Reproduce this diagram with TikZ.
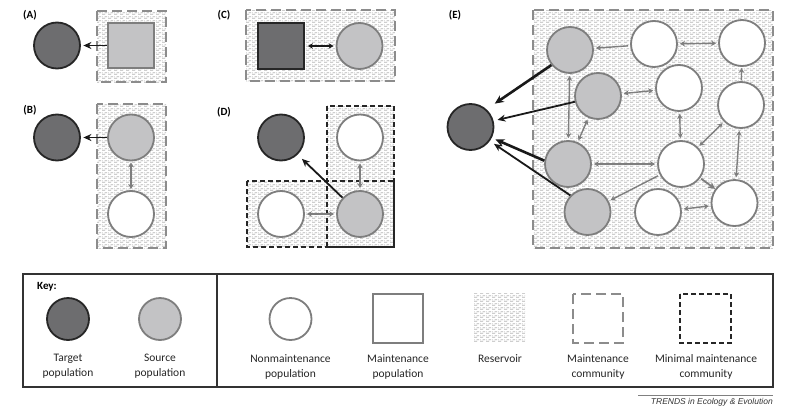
\documentclass[tikz,border=0pt]{standalone}
\usepackage{fontspec}
\setmainfont{Carlito}
\newfontfamily\arialfont{Liberation Sans}
\usetikzlibrary{arrows.meta,patterns,calc}

\pgfdeclarepatternformonly{reservoirdash}{\pgfqpoint{0pt}{0pt}}{\pgfqpoint{6pt}{3.5pt}}{\pgfqpoint{6pt}{3.5pt}}{%
  \pgfpathrectangle{\pgfqpoint{0pt}{0.4pt}}{\pgfqpoint{3.6pt}{0.9pt}}%
  \pgfpathrectangle{\pgfqpoint{3pt}{2.15pt}}{\pgfqpoint{3pt}{0.9pt}}%
  \pgfpathrectangle{\pgfqpoint{0pt}{2.15pt}}{\pgfqpoint{0.6pt}{0.9pt}}%
  \pgfusepath{fill}}

\definecolor{tgtfill}{HTML}{6D6D6F}
\definecolor{srcfill}{HTML}{C3C3C5}
\definecolor{edgegray}{HTML}{7E7E7E}
\definecolor{boxgray}{HTML}{8C8C8C}
\definecolor{patgray}{HTML}{B4B4B4}

\tikzset{
  pop/.style={circle, minimum size=46pt, inner sep=0pt, line width=1.8pt},
  target/.style={pop, draw=black!85, fill=tgtfill},
  source/.style={pop, draw=edgegray, fill=srcfill},
  nonmaint/.style={pop, draw=edgegray, fill=white},
  keypop/.style={minimum size=42pt},
  sqsrc/.style={rectangle, draw=edgegray, fill=srcfill, line width=1.8pt, minimum width=46pt, minimum height=45pt, inner sep=0pt},
  sqtgt/.style={rectangle, draw=black!85, fill=tgtfill, line width=1.8pt, minimum width=46pt, minimum height=46pt, inner sep=0pt},
  sqmaint/.style={rectangle, draw=edgegray, fill=white, line width=1.9pt, minimum width=50pt, minimum height=49pt, inner sep=0pt},
  reservoirbox/.style={preaction={fill=white}, preaction={pattern=reservoirdash, pattern color=patgray}},
  maintcomm/.style={draw=boxgray, line width=1.9pt, dash pattern=on 10pt off 5pt},
  minimalcomm/.style={draw=black!85, line width=1.9pt, dash pattern=on 5pt off 3pt},
  blackarr/.style={-{Stealth[length=8pt,width=7pt]}, line width=1.8pt, draw=black!90},
  thickarr/.style={blackarr, line width=2.6pt, -{Stealth[length=9pt,width=8pt]}},
  blackdbl/.style={{Stealth[length=5pt,width=5.5pt]}-{Stealth[length=5pt,width=5.5pt]}, line width=1.4pt, draw=black!90},
  grayarr/.style={-{Stealth[length=5pt,width=5.5pt]}, line width=1.4pt, draw=edgegray, shorten <=2pt, shorten >=2pt},
  bigarr/.style={-{Stealth[length=7pt,width=7pt]}, line width=1.8pt, draw=edgegray, shorten <=1pt, shorten >=0pt},
  graydbl/.style={{Stealth[length=5pt,width=5.5pt]}-{Stealth[length=5pt,width=5.5pt]}, line width=1.4pt, draw=edgegray, shorten <=2pt, shorten >=2pt},
  panellabel/.style={font=\bfseries\fontsize{11}{13}\selectfont, inner sep=0pt},
  keylabel/.style={font=\fontsize{11.5}{15}\selectfont, align=center, inner sep=0pt, text=black!85},
}

\begin{document}
\begin{tikzpicture}[x=1pt,y=-1pt]
\useasboundingbox (0,0) rectangle (797,415);

% ---------- (A) ----------
\node[panellabel] (la) at (30,15) {(A)};
\node[target] (at) at (57,45.5) {};
\draw[reservoirbox, maintcomm] (97,11) rectangle (166,82);
\node[sqsrc] (asq) at (131,45.5) {};
\draw[blackarr, shorten >=2.5pt] (asq) -- (at);

% ---------- (B) ----------
\node[panellabel] (lb) at (30,110) {(B)};
\node[target] (bt) at (57,137.5) {};
\draw[reservoirbox, maintcomm] (97,104) rectangle (166,248);
\node[source] (bs) at (131,137.5) {};
\node[nonmaint] (bn) at (131,214) {};
\draw[blackarr, shorten >=2.5pt] (bs) -- (bt);
\draw[graydbl, shorten <=1pt, shorten >=1pt] (bs) -- (bn);

% ---------- (C) ----------
\node[panellabel] (lc) at (224,15) {(C)};
\draw[reservoirbox, maintcomm] (246,10) rectangle (395,81);
\node[sqtgt] (csq) at (281,46) {};
\node[source] (cs) at (359.5,46) {};
\draw[blackdbl, shorten <=3pt, shorten >=2pt] (csq) -- (cs);

% ---------- (D) ----------
\node[panellabel] (ld) at (224,112) {(D)};
\node[target] (dt) at (281,137.5) {};
\path[reservoirbox] (327,106) rectangle (394,247);
\path[reservoirbox] (247,181) rectangle (394,247);
\draw[minimalcomm] (327,106) rectangle (394,247);
\draw[minimalcomm] (247,181) rectangle (394,247);
\draw[draw=black!85, line width=1.9pt] (329,247) -- (394,247) -- (394,181);
\node[nonmaint] (dn1) at (360,137.5) {};
\node[source] (ds) at (360,214) {};
\node[nonmaint] (dn2) at (281,214) {};
\draw[graydbl] (dn1) -- (ds);
\draw[graydbl] (dn2) -- (ds);
\draw[blackarr, shorten >=6pt] (ds.137) -- (dt.314);

% ---------- (E) ----------
\node[panellabel] (le) at (455,15) {(E)};
\draw[reservoirbox, maintcomm] (533,10) rectangle (773,248);
\node[target] (et) at (470.5,127) {};
\node[source] (es1) at (570,50) {};
\node[nonmaint] (en1) at (654,44) {};
\node[nonmaint] (en2) at (742,43) {};
\node[source] (es2) at (598,96) {};
\node[nonmaint] (en3) at (679,88) {};
\node[nonmaint] (en4) at (741,105) {};
\node[source] (es3) at (568,164) {};
\node[nonmaint] (en5) at (681,164) {};
\node[source] (es4) at (587.5,212) {};
\node[nonmaint] (en6) at (658,212) {};
\node[nonmaint] (en7) at (734.5,203) {};

\draw[grayarr] (en1) -- (es1);
\draw[graydbl] (en1) -- (en2);
\draw[graydbl] (es2) -- (en3);
\draw[grayarr, shorten <=1pt, shorten >=1pt] (en4) -- (en2);
\draw[graydbl] (es1) -- (es3);
\draw[graydbl] (es2) -- (es3);
\draw[graydbl] (en3) -- (en5);
\draw[graydbl] (es3) -- (en5);
\draw[graydbl] (en5) -- (en4);
\draw[graydbl] (en4) -- (en7);
\draw[bigarr] (en5) -- (en7);
\draw[grayarr] (en5) -- (es4);
\draw[graydbl] (en6) -- (en7);

\draw[thickarr, shorten >=10pt] (es1.219) -- (et.48);
\draw[blackarr, shorten >=4pt] (es2.194) -- (et.15);
\draw[thickarr, shorten >=4pt] (es3.172) -- (et.333);
\draw[blackarr, shorten >=5pt] (es4.136) -- (et.324);

% ---------- Key ----------
\draw[line width=1.3pt, draw=black!80] (23,274) rectangle (773,387);
\draw[line width=1.3pt, draw=black!80] (217,274) -- (217,387);
\node[anchor=west, font=\bfseries\fontsize{11}{13}\selectfont, inner sep=0pt] (keyhead) at (37,287) {Key:};

\node[target, keypop] (kt) at (68,319) {};
\node[keylabel] (ktl) at (68,366.5) {Target\\population};
\node[source, keypop] (ks) at (160,319) {};
\node[keylabel] (ksl) at (160,366.5) {Source\\population};
\node[nonmaint, keypop] (kn) at (290.5,319) {};
\node[keylabel] (knl) at (290.5,366.5) {Nonmaintenance\\population};
\node[sqmaint] (km) at (398,318.5) {};
\node[keylabel] (kml) at (398,366.5) {Maintenance\\population};
\path[reservoirbox] (474,293) rectangle (525,342);
\node[keylabel] (krl) at (500,359) {Reservoir};
\draw[maintcomm] (573,294) rectangle (623,343);
\node[keylabel] (kcl) at (598,366.5) {Maintenance\\community};
\draw[minimalcomm] (680,294) rectangle (731,343);
\node[keylabel] (kmcl) at (706,366.5) {Minimal maintenance\\community};

\draw[line width=0.4pt, draw=black!50] (638,395) -- (773,395);
\node[anchor=east, inner sep=0pt, font=\arialfont\itshape\fontsize{8.5}{10}\selectfont, text=black!80] (trends) at (773,402) {TRENDS in Ecology \& Evolution};
\end{tikzpicture}
\end{document}
